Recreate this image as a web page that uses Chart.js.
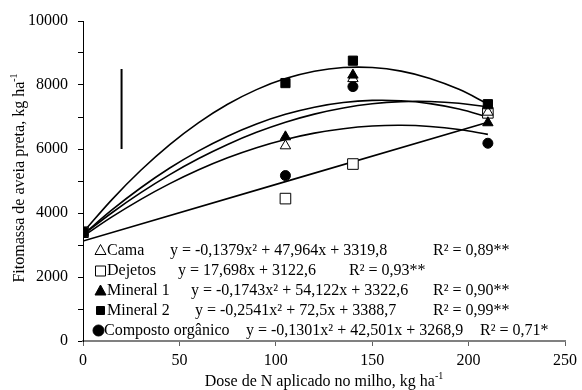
<!DOCTYPE html>
<html>
<head>
<meta charset="utf-8">
<script src="https://cdn.jsdelivr.net/npm/chart.js@4/dist/chart.umd.min.js"></script>
<style>
  html, body { margin: 0; padding: 0; background: #fff; }
  #wrap { width: 582px; height: 390px; }
</style>
</head>
<body>
<div id="wrap"><canvas id="fitoChart" width="582" height="390"></canvas></div>
<script>
// observed points (dose of N, kg/ha)
const doses = [0, 105, 140, 210];
const cama = [3400, 6100, 8200, 7150];
const dejetos = [3400, 4450, 5530, 7130];
const mineral1 = [3400, 6380, 8310, 6820];
const mineral2 = [3400, 8060, 8760, 7400];
const composto = [3400, 5170, 7950, 6180];

// fitted curves
const trendX = [0, 15, 30, 45, 60, 75, 90, 105, 120, 135, 150, 165, 180, 195, 210];
const camaFit = [3320, 4008, 4635, 5199, 5701, 6141, 6520, 6836, 7090, 7282, 7412, 7480, 7485, 7429, 7311];
const mineral1Fit = [3323, 4095, 4789, 5405, 5942, 6401, 6782, 7084, 7307, 7452, 7519, 7507, 7417, 7249, 7002];
const mineral2Fit = [3389, 4419, 5335, 6137, 6824, 7397, 7856, 8200, 8430, 8545, 8546, 8433, 8206, 7864, 7408];
const compostoFit = [3269, 3877, 4427, 4918, 5351, 5725, 6040, 6297, 6496, 6635, 6717, 6740, 6704, 6610, 6457];
const dejetosFitX = [0, 210];
const dejetosFit = [3123, 6839];

// vertical bar (LSD)
const barX = [20, 20];
const barY = [6000, 8500];

const xTicks = [0, 50, 100, 150, 200, 250];
const yTicks = [0, 2000, 4000, 6000, 8000, 10000];

const legendRows = [
  { label: "Cama", marker: "triangle", fill: false, eq: "y = -0,1379x² + 47,964x + 3319,8", r2: "R² = 0,89**", eqX: 170, r2X: 433 },
  { label: "Dejetos", marker: "rect", fill: false, eq: "y = 17,698x + 3122,6", r2: "R² = 0,93**", eqX: 178, r2X: 349 },
  { label: "Mineral 1", marker: "triangle", fill: true, eq: "y = -0,1743x² + 54,122x + 3322,6", r2: "R² = 0,90**", eqX: 191, r2X: 433 },
  { label: "Mineral 2", marker: "rect", fill: true, eq: "y = -0,2541x² + 72,5x + 3388,7", r2: "R² = 0,99**", eqX: 195, r2X: 433 },
  { label: "Composto orgânico", marker: "circle", fill: true, eq: "y = -0,1301x² + 42,501x + 3268,9", r2: "R² = 0,71*", eqX: 246, r2X: 480 }
];

const FONT = "Liberation Serif, 'Times New Roman', serif";

function pts(xs, ys) {
  return xs.map((x, i) => ({ x: x, y: ys[i] }));
}

function fitLine(xs, ys) {
  return {
    data: pts(xs, ys),
    showLine: true,
    borderColor: "#000",
    borderWidth: 1.6,
    pointRadius: 0,
    tension: 0.4,
    order: 2
  };
}

function marks(ys, style, filled, r) {
  return {
    data: pts(doses, ys),
    showLine: false,
    pointStyle: style,
    pointRadius: r,
    pointBackgroundColor: filled ? "#000" : "#fff",
    pointBorderColor: "#000",
    pointBorderWidth: 1,
    order: 1
  };
}

function drawMarker(ctx, type, fill, x, y) {
  ctx.save();
  ctx.beginPath();
  if (type === "triangle") {
    ctx.moveTo(x, y - 6);
    ctx.lineTo(x + 5.5, y + 4);
    ctx.lineTo(x - 5.5, y + 4);
    ctx.closePath();
  } else if (type === "rect") {
    const s = fill ? 4 : 5;
    ctx.rect(x - s, y - s, 2 * s, 2 * s);
  } else {
    ctx.arc(x, y, 5.5, 0, Math.PI * 2);
  }
  ctx.lineWidth = 1;
  ctx.strokeStyle = "#000";
  ctx.fillStyle = fill ? "#000" : "#fff";
  ctx.fill();
  ctx.stroke();
  ctx.restore();
}

const extras = {
  id: "extras",
  afterDraw(chart) {
    const ctx = chart.ctx;
    const area = chart.chartArea;
    ctx.save();
    ctx.fillStyle = "#000";
    ctx.textBaseline = "middle";

    // legend with equations
    const rowY = [250.5, 271, 291, 310.5, 330.5];
    ctx.font = "16px " + FONT;
    legendRows.forEach((row, i) => {
      const y = rowY[i];
      drawMarker(ctx, row.marker, row.fill, row.marker === "circle" ? 98.5 : 100.5, y);
      ctx.textAlign = "left";
      ctx.fillText(row.label, row.marker === "circle" ? 104 : 107, y);
      ctx.fillText(row.eq, row.eqX, y);
      ctx.fillText(row.r2, row.r2X, y);
    });

    // x axis title
    const xMain = "Dose de N aplicado no milho, kg ha";
    ctx.font = "16px " + FONT;
    const w1 = ctx.measureText(xMain).width;
    ctx.font = "10px " + FONT;
    const w2 = ctx.measureText("-1").width;
    const cx = (area.left + area.right) / 2;
    let sx = cx - (w1 + w2) / 2;
    ctx.textAlign = "left";
    ctx.font = "16px " + FONT;
    ctx.fillText(xMain, sx, 382);
    ctx.font = "10px " + FONT;
    ctx.fillText("-1", sx + w1, 376);

    // y axis title
    const yMain = "Fitomassa de aveia preta, kg ha";
    ctx.translate(20, 178);
    ctx.rotate(-Math.PI / 2);
    ctx.font = "16px " + FONT;
    const v1 = ctx.measureText(yMain).width;
    ctx.font = "10px " + FONT;
    const v2 = ctx.measureText("-1").width;
    sx = -(v1 + v2) / 2;
    ctx.font = "16px " + FONT;
    ctx.fillText(yMain, sx, 0);
    ctx.font = "10px " + FONT;
    ctx.fillText("-1", sx + v1, -6);
    ctx.restore();
  }
};

document.addEventListener("DOMContentLoaded", function () {
  const ctx = document.getElementById("fitoChart").getContext("2d");
  new Chart(ctx, {
    type: "scatter",
    data: {
      datasets: [
        marks(mineral2, "rect", true, 6.5),
        marks(mineral1, "triangle", true, 6),
        marks(cama, "triangle", false, 6),
        marks(composto, "circle", true, 5),
        marks(dejetos, "rect", false, 7.5),
        fitLine(trendX, camaFit),
        fitLine(trendX, mineral1Fit),
        fitLine(trendX, mineral2Fit),
        fitLine(trendX, compostoFit),
        fitLine(dejetosFitX, dejetosFit),
        {
          data: pts(barX, barY),
          showLine: true,
          borderColor: "#000",
          borderWidth: 2,
          pointRadius: 0,
          order: 3
        }
      ]
    },
    options: {
      responsive: false,
      animation: false,
      layout: { padding: { top: 21, right: 14, left: 0, bottom: 0 } },
      scales: {
        x: {
          type: "linear",
          min: 0,
          max: 250,
          afterBuildTicks: axis => { axis.ticks = xTicks.map(v => ({ value: v })); },
          afterFit: axis => { axis.height = 49; },
          border: { display: true, color: "#808080", width: 2 },
          grid: { drawOnChartArea: false, drawTicks: true, tickLength: 5, color: "#606060" },
          ticks: { color: "#000", padding: 5, font: { family: FONT, size: 16 } }
        },
        y: {
          type: "linear",
          min: 0,
          max: 10000,
          afterBuildTicks: axis => {
            const t = [];
            for (let v = 0; v <= 10000; v += 1000) t.push({ value: v });
            axis.ticks = t;
          },
          afterFit: axis => { axis.width = 83; },
          border: { display: true, color: "#000", width: 1 },
          grid: { drawOnChartArea: false, drawTicks: true, tickLength: 5, color: "#000" },
          ticks: {
            color: "#000",
            padding: 10,
            font: { family: FONT, size: 16 },
            callback: value => yTicks.includes(value) ? String(value) : ""
          }
        }
      },
      plugins: {
        legend: { display: false },
        tooltip: { enabled: false }
      }
    },
    plugins: [extras]
  });
});
</script>
</body>
</html>
